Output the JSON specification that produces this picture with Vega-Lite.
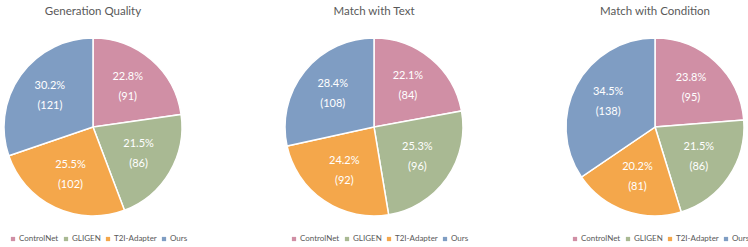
{
  "$schema": "https://vega.github.io/schema/vega-lite/v6.json",
  "padding": {"left": 0, "right": 0, "top": 5, "bottom": 0},
  "spacing": 95,
  "bounds": "flush",
  "background": "white",
  "datasets": {
    "votes": [
      {"metric": "Generation Quality", "method": "ControlNet", "idx": 1, "pct": 22.8, "count": 91},
      {"metric": "Generation Quality", "method": "GLIGEN", "idx": 2, "pct": 21.5, "count": 86},
      {"metric": "Generation Quality", "method": "T2I-Adapter", "idx": 3, "pct": 25.5, "count": 102},
      {"metric": "Generation Quality", "method": "Ours", "idx": 4, "pct": 30.2, "count": 121},
      {"metric": "Match with Text", "method": "ControlNet", "idx": 1, "pct": 22.1, "count": 84},
      {"metric": "Match with Text", "method": "GLIGEN", "idx": 2, "pct": 25.3, "count": 96},
      {"metric": "Match with Text", "method": "T2I-Adapter", "idx": 3, "pct": 24.2, "count": 92},
      {"metric": "Match with Text", "method": "Ours", "idx": 4, "pct": 28.4, "count": 108},
      {"metric": "Match with Condition", "method": "ControlNet", "idx": 1, "pct": 23.8, "count": 95},
      {"metric": "Match with Condition", "method": "GLIGEN", "idx": 2, "pct": 21.5, "count": 86},
      {"metric": "Match with Condition", "method": "T2I-Adapter", "idx": 3, "pct": 20.2, "count": 81},
      {"metric": "Match with Condition", "method": "Ours", "idx": 4, "pct": 34.5, "count": 138}
    ]
  },
  "config": {
    "view": {"stroke": null},
    "font": "Lato",
    "title": {"fontSize": 11.5, "fontWeight": "normal", "color": "#595959", "font": "Lato", "offset": 9},
    "legend": {"labelFont": "Lato", "labelFontSize": 8, "labelColor": "#595959", "symbolType": "square", "symbolSize": 18, "symbolStrokeWidth": 0, "labelOffset": 2, "columnPadding": 3, "orient": "none", "legendX": 9, "legendY": 209, "direction": "horizontal", "title": null}
  },
  "resolve": {"scale": {"color": "independent"}, "legend": {"color": "independent"}},
  "hconcat": [
    {
      "width": 186, "height": 202,
      "title": "Generation Quality",
      "data": {"name": "votes"},
      "transform": [
        {"filter": "datum.metric === 'Generation Quality'"},
        {"calculate": "[datum.pct + '%', '(' + datum.count + ')']", "as": "label"}
      ],
      "encoding": {
        "theta": {"field": "count", "type": "quantitative", "stack": true},
        "order": {"field": "idx", "type": "quantitative"},
        "color": {"field": "method", "type": "nominal", "scale": {"domain": ["ControlNet", "GLIGEN", "T2I-Adapter", "Ours"], "range": ["#D08FA5", "#A9B993", "#F4A74B", "#7F9DC3"]}}
      },
      "layer": [
        {"mark": {"type": "arc", "outerRadius": 89, "stroke": "white", "strokeWidth": 1.5}},
        {"mark": {"type": "text", "radius": 53, "dy": -10, "fill": "white", "fontSize": 11, "lineHeight": 20, "align": "center", "baseline": "middle"}, "encoding": {"text": {"field": "label"}, "color": {"value": "white"}}}
      ]
    },
    {
      "width": 186, "height": 202,
      "title": "Match with Text",
      "data": {"name": "votes"},
      "transform": [
        {"filter": "datum.metric === 'Match with Text'"},
        {"calculate": "[datum.pct + '%', '(' + datum.count + ')']", "as": "label"}
      ],
      "encoding": {
        "theta": {"field": "count", "type": "quantitative", "stack": true},
        "order": {"field": "idx", "type": "quantitative"},
        "color": {"field": "method", "type": "nominal", "scale": {"domain": ["ControlNet", "GLIGEN", "T2I-Adapter", "Ours"], "range": ["#D08FA5", "#A9B993", "#F4A74B", "#7F9DC3"]}}
      },
      "layer": [
        {"mark": {"type": "arc", "outerRadius": 89, "stroke": "white", "strokeWidth": 1.5}},
        {"mark": {"type": "text", "radius": 53, "dy": -10, "fill": "white", "fontSize": 11, "lineHeight": 20, "align": "center", "baseline": "middle"}, "encoding": {"text": {"field": "label"}, "color": {"value": "white"}}}
      ]
    },
    {
      "width": 186, "height": 202,
      "title": "Match with Condition",
      "data": {"name": "votes"},
      "transform": [
        {"filter": "datum.metric === 'Match with Condition'"},
        {"calculate": "[datum.pct + '%', '(' + datum.count + ')']", "as": "label"}
      ],
      "encoding": {
        "theta": {"field": "count", "type": "quantitative", "stack": true},
        "order": {"field": "idx", "type": "quantitative"},
        "color": {"field": "method", "type": "nominal", "scale": {"domain": ["ControlNet", "GLIGEN", "T2I-Adapter", "Ours"], "range": ["#D08FA5", "#A9B993", "#F4A74B", "#7F9DC3"]}}
      },
      "layer": [
        {"mark": {"type": "arc", "outerRadius": 89, "stroke": "white", "strokeWidth": 1.5}},
        {"mark": {"type": "text", "radius": 53, "dy": -10, "fill": "white", "fontSize": 11, "lineHeight": 20, "align": "center", "baseline": "middle"}, "encoding": {"text": {"field": "label"}, "color": {"value": "white"}}}
      ]
    }
  ]
}
